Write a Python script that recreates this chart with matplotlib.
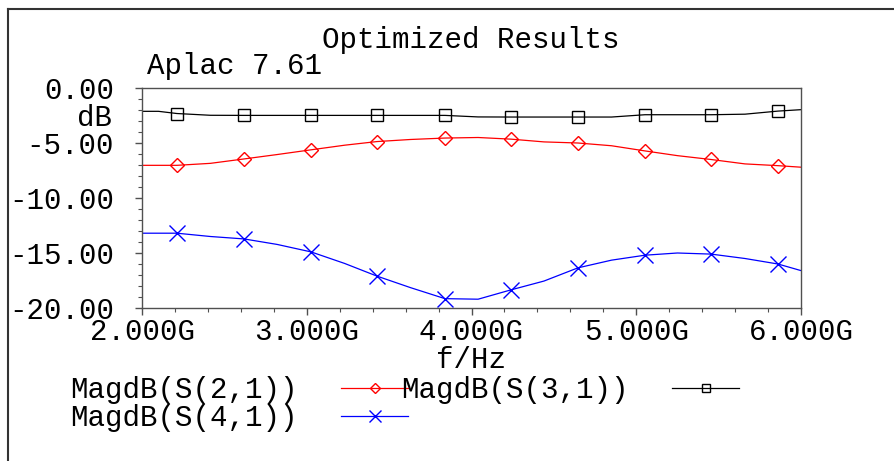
import matplotlib
matplotlib.use("Agg")
import matplotlib.pyplot as plt
from matplotlib.lines import Line2D
from matplotlib.ticker import MultipleLocator, FuncFormatter

# ---- data (frequency in GHz, magnitude in dB) ----
freq_ghz = [2.00, 2.10, 2.212, 2.415, 2.619, 2.82, 3.026, 3.23, 3.426, 3.63, 3.839,
            4.04, 4.24, 4.44, 4.646, 4.85, 5.053, 5.25, 5.454, 5.66, 5.86, 6.00]
s21_db = [-7.03, -7.03, -7.03, -6.85, -6.45, -6.05, -5.62, -5.20, -4.87, -4.68, -4.55,
          -4.50, -4.65, -4.90, -5.00, -5.25, -5.72, -6.15, -6.50, -6.90, -7.06, -7.20]
s31_db = [-2.12, -2.12, -2.32, -2.48, -2.49, -2.49, -2.49, -2.49, -2.49, -2.49, -2.49,
          -2.63, -2.64, -2.64, -2.64, -2.64, -2.43, -2.43, -2.43, -2.38, -2.10, -1.97]
s41_db = [-13.20, -13.20, -13.20, -13.50, -13.72, -14.22, -14.90, -15.95, -17.10, -18.15, -19.15,
          -19.20, -18.35, -17.55, -16.35, -15.65, -15.20, -15.00, -15.10, -15.50, -16.00, -16.60]
marker_idx = [2, 4, 6, 8, 10, 12, 14, 16, 18, 20]

labels = ["MagdB(S(2,1))", "MagdB(S(3,1))", "MagdB(S(4,1))"]
x_ticks = [2.0, 3.0, 4.0, 5.0, 6.0]
y_ticks = [0.0, -5.0, -10.0, -15.0, -20.0]
title = "Optimized Results"
subtitle = "Aplac 7.61"
x_label = "f/Hz"
y_label = "dB"

# ---- figure ----
W, H = 894, 461
FONT = ["Liberation Mono", "DejaVu Sans Mono"]
FS = 21
plt.rcParams["font.family"] = FONT

fig = plt.figure(figsize=(W / 100, H / 100), dpi=100)
ax = fig.add_axes([142 / W, 1 - 308 / H, (801 - 142) / W, (308 - 88) / H])

def px(x, y):
    return x / W, 1 - y / H

AX_COL = "#505050"
ax.plot(freq_ghz, s31_db, color="black", lw=0.9, marker="s", markevery=marker_idx,
        ms=8.5, mfc="none", mec="black", mew=1.0)
ax.plot(freq_ghz, s21_db, color="#ff0000", lw=0.9, marker="D", markevery=marker_idx,
        ms=7.0, mfc="none", mec="#ff0000", mew=1.0)
ax.plot(freq_ghz, s41_db, color="#0000ff", lw=0.9, marker="x", markevery=marker_idx,
        ms=11, mec="#0000ff", mew=1.0)

ax.set_xlim(2.0, 6.0)
ax.set_ylim(-20.0, 0.0)
ax.set_xticks(x_ticks)
ax.set_yticks(y_ticks)
ax.xaxis.set_minor_locator(MultipleLocator(0.2))
ax.yaxis.set_minor_locator(MultipleLocator(1.0))
ax.xaxis.set_major_formatter(FuncFormatter(lambda v, p: f"{v:.3f}G"))
ax.yaxis.set_major_formatter(FuncFormatter(lambda v, p: f"{v:.2f}"))

for s in ax.spines.values():
    s.set_color(AX_COL)
    s.set_linewidth(1.0)
ax.tick_params(axis="both", which="major", direction="out", length=5, width=1.0,
               color=AX_COL, labelsize=FS)
ax.tick_params(axis="both", which="minor", direction="out", length=3, width=0.8,
               color=AX_COL)
ax.tick_params(axis="y", which="major", pad=15)
ax.tick_params(axis="x", which="major", pad=2)

ax.set_xlabel(x_label, fontsize=FS, labelpad=0)

fig.text(*px(471, 40), title, fontsize=FS, ha="center", va="center")
fig.text(*px(147, 66), subtitle, fontsize=FS, ha="left", va="center")
fig.text(*px(112, 118), y_label, fontsize=FS, ha="right", va="center")

# ---- legend (label first, then sample) ----
handles = [
    Line2D([], [], color="#ff0000", lw=0.9, marker="D", ms=5.5, mfc="none", mec="#ff0000"),
    Line2D([], [], color="#0000ff", lw=0.9, marker="x", ms=9, mec="#0000ff"),
    Line2D([], [], color="black", lw=0.9, marker="s", ms=6, mfc="none", mec="black"),
]
leg = ax.legend(handles, [labels[0], labels[2], labels[1]], ncol=2, markerfirst=False,
                loc="upper left", bbox_to_anchor=px(70, 376), bbox_transform=fig.transFigure,
                frameon=False, fontsize=FS, handlelength=2.3, handletextpad=1.5,
                columnspacing=-0.25, labelspacing=0.0, borderpad=0, borderaxespad=0)

# ---- outer frame ----
fig.add_artist(Line2D([8 / W, 1.0], [1 - 9 / H, 1 - 9 / H], transform=fig.transFigure,
                      color="#333333", lw=1.5))
fig.add_artist(Line2D([8 / W, 8 / W], [1 - 9 / H, 0.0], transform=fig.transFigure,
                      color="#333333", lw=1.5))

fig.savefig("out.png", dpi=100)
